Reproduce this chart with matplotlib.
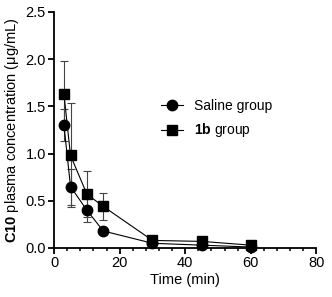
import matplotlib
matplotlib.use("Agg")
from matplotlib import pyplot as plt
from matplotlib.ticker import MultipleLocator, FormatStrFormatter

plt.rcParams['font.family'] = ['Liberation Sans', 'DejaVu Sans']
plt.rcParams['mathtext.fontset'] = 'custom'
plt.rcParams['mathtext.rm'] = 'Liberation Sans'
plt.rcParams['mathtext.bf'] = 'Liberation Sans:bold'

# 数据
time = [3, 5, 10, 15, 30, 45, 60]
saline = [1.30, 0.65, 0.40, 0.18, 0.05, 0.03, 0.01]
saline_err = [0.17, 0.19, 0.13, 0.02, 0.02, 0.01, 0.01]
g1b = [1.63, 0.98, 0.57, 0.44, 0.08, 0.07, 0.03]
g1b_err = [0.35, 0.55, 0.24, 0.14, 0.03, 0.03, 0.01]


def main():
    fig = plt.figure(figsize=(3.32, 2.97), dpi=100)
    ax = fig.add_axes([0.163, 0.165, 0.79, 0.795])

    e1 = ax.errorbar(time, saline, yerr=saline_err, color='black', marker='o',
                     markersize=7.5, linewidth=0.8, elinewidth=0.8, capsize=3,
                     capthick=0.8, ecolor='#444444', clip_on=False)
    e2 = ax.errorbar(time, g1b, yerr=g1b_err, color='black', marker='s',
                     markersize=7.5, linewidth=0.8, elinewidth=0.8, capsize=3,
                     capthick=0.8, ecolor='#444444', clip_on=False)

    ax.set_xlim(0, 80)
    ax.set_ylim(0, 2.5)
    ax.xaxis.set_major_locator(MultipleLocator(20))
    ax.xaxis.set_minor_locator(MultipleLocator(4))
    ax.yaxis.set_major_locator(MultipleLocator(0.5))
    ax.yaxis.set_major_formatter(FormatStrFormatter('%.1f'))

    for s in ['top', 'right']:
        ax.spines[s].set_visible(False)
    for s in ['left', 'bottom']:
        ax.spines[s].set_linewidth(1.3)
    ax.tick_params(which='major', length=4, width=1.3, labelsize=10.5, pad=2)
    ax.tick_params(which='minor', length=2.5, width=1.1)

    ax.set_xlabel('Time (min)', fontsize=10.5, labelpad=2)
    ax.set_ylabel('$\\mathbf{C10}$ plasma concentration (μg/mL)', fontsize=10.5, labelpad=3)

    # 图例只画线和标记，不画误差线
    ax.legend([e1[0], e2[0]], ['Saline group', '$\\mathbf{1b}$ group'],
              loc='center left', bbox_to_anchor=(0.36, 0.545), frameon=False,
              fontsize=10, handlelength=1.6, handletextpad=0.8, labelspacing=0.6)

    plt.savefig('out.png', dpi=100)


if __name__ == '__main__':
    main()
